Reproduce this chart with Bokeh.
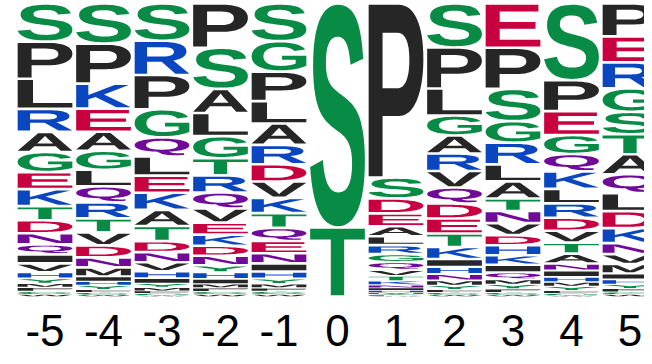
import os, glob, struct, subprocess
from bokeh.plotting import figure
from bokeh.models import ColumnDataSource, Range1d
from bokeh.core.properties import value
from bokeh.embed import file_html
from bokeh.resources import INLINE

# ---------------- data (sequence logo, relative frequencies) ----------------
positions = [-5, -4, -3, -2, -1, 0, 1, 2, 3, 4, 5]
tick_labels = ["-5", "-4", "-3", "-2", "-1", "0", "1", "2", "3", "4", "5"]

# letters listed from top of each stack to the bottom, with their weights
letters_m5 = list("SPLRAGEKTDNQIVHYMFCW")
weights_m5 = [38, 37, 30, 23, 20, 20, 17, 17, 14, 13, 11, 10, 9, 9, 6, 5, 4, 4, 3, 2]
letters_m4 = list("SPKEAGLQRTVDNMIHYFCW")
weights_m4 = [40, 40, 25, 23, 19, 19, 16.5, 16, 16, 14, 13, 12, 10, 9, 5, 4, 4, 3, 2.5, 1.5]
letters_m3 = list("SRPGQLEKATDNVHIYMFCW")
weights_m3 = [37, 34, 34, 28, 19, 19, 17, 17, 16, 15, 11, 10, 9, 7, 5, 4, 3.5, 2.5, 2, 1]
letters_m2 = list("PSALGTRQVEKDNYHIMFCW")
weights_m2 = [44, 41, 24, 23, 22, 17, 17, 16, 14, 12, 11, 10, 9.5, 7, 6.5, 5, 4, 3.5, 3, 2]
letters_m1 = list("SGPLARDVKTQENIHYMFCW")
weights_m1 = [37, 30, 29, 22, 21, 19, 17, 16, 15, 14.5, 13, 12, 10, 8, 7, 5, 4, 3.5, 3, 2]
letters_0 = list("ST")
weights_0 = [224, 69]
letters_p1 = list("PSDEALRGQVTKNIHMYFCW")
weights_p1 = [175, 21, 15, 13, 10, 9, 9, 8, 8, 6, 5, 4, 3, 2.5, 2, 1.5, 1, 0.8, 0.5, 0.3]
letters_p2 = list("SPLGARVQDETKIHNMYFCW")
weights_p2 = [44, 41, 27, 20, 18, 17.5, 16.5, 16, 15, 15, 13.5, 12, 8, 7, 6.5, 5, 4, 3, 2.5, 1.5]
letters_p3 = list("EPSGRLATNVDHKIQMYFCW")
weights_p3 = [44, 41, 32, 21.5, 21.5, 17, 17, 12.5, 12, 12, 10, 10, 9.5, 7.5, 7, 5, 4.5, 3.5, 2.5, 1.5]
letters_p4 = list("SPEGQKLRDVTANIHMYFCW")
weights_p4 = [77, 31, 24, 19, 17.5, 17.5, 14.5, 14.5, 13, 12, 11, 10, 7, 6.5, 5, 4.5, 4, 3, 2, 1]
letters_p5 = list("PERGSTAQLDKNVMIHYFCW")
weights_p5 = [33, 26, 26, 23.5, 22.5, 20, 20, 19, 18, 17, 15, 11, 10, 9.5, 6, 5, 4, 3.5, 2.5, 2]

stacks = [
    (letters_m5, weights_m5), (letters_m4, weights_m4), (letters_m3, weights_m3),
    (letters_m2, weights_m2), (letters_m1, weights_m1), (letters_0, weights_0),
    (letters_p1, weights_p1), (letters_p2, weights_p2), (letters_p3, weights_p3),
    (letters_p4, weights_p4), (letters_p5, weights_p5),
]

# chemistry colour scheme
GREEN, PURPLE, BLUE, RED, BLACK = "#078b45", "#6f0a99", "#0a46c0", "#c8003f", "#262626"
color_of = {}
for ch in "GSTYC":
    color_of[ch] = GREEN
for ch in "NQ":
    color_of[ch] = PURPLE
for ch in "KRH":
    color_of[ch] = BLUE
for ch in "DE":
    color_of[ch] = RED
for ch in "AVLIPWFM":
    color_of[ch] = BLACK


# ---------------- minimal TrueType outline reader ----------------
def find_font():
    names = ["LiberationSans-Bold.ttf", "Arimo-Bold.ttf", "DejaVuSans-Bold.ttf",
             "LiberationSans-Regular.ttf", "DejaVuSans.ttf"]
    roots = ["/usr/share/fonts", "/usr/local/share/fonts",
             os.path.expanduser("~/.fonts"), os.path.expanduser("~/.local/share/fonts")]
    for n in names:
        for r in roots:
            hits = glob.glob(os.path.join(r, "**", n), recursive=True)
            if hits:
                return hits[0]
    try:
        out = subprocess.run(["fc-match", "-f", "%{file}", "Liberation Sans:bold"],
                             capture_output=True, text=True).stdout.strip()
        if out and os.path.exists(out):
            return out
    except Exception:
        pass
    raise RuntimeError("no TrueType font found")


class TTF:
    def __init__(self, path):
        d = open(path, "rb").read()
        self.d = d
        base = struct.unpack(">I", d[12:16])[0] if d[:4] == b"ttcf" else 0
        n = struct.unpack(">H", d[base + 4:base + 6])[0]
        self.t = {}
        for i in range(n):
            rec = d[base + 12 + 16 * i: base + 28 + 16 * i]
            tag = rec[:4].decode("latin1")
            _, off, ln = struct.unpack(">III", rec[4:])
            self.t[tag] = off
        head = self.t["head"]
        locfmt = struct.unpack(">h", d[head + 50:head + 52])[0]
        maxp = self.t["maxp"]
        ng = struct.unpack(">H", d[maxp + 4:maxp + 6])[0]
        lo = self.t["loca"]
        if locfmt == 0:
            self.loca = [2 * v for v in struct.unpack(">%dH" % (ng + 1), d[lo:lo + 2 * (ng + 1)])]
        else:
            self.loca = list(struct.unpack(">%dI" % (ng + 1), d[lo:lo + 4 * (ng + 1)]))
        self.glyf = self.t["glyf"]
        self.cmap = self._cmap()

    def _cmap(self):
        d = self.d
        b = self.t["cmap"]
        n = struct.unpack(">H", d[b + 2:b + 4])[0]
        sub = None
        for i in range(n):
            pid, eid, off = struct.unpack(">HHI", d[b + 4 + 8 * i:b + 12 + 8 * i])
            fmt = struct.unpack(">H", d[b + off:b + off + 2])[0]
            if fmt == 4:
                sub = b + off
                if pid == 3:
                    break
        segx2 = struct.unpack(">H", d[sub + 6:sub + 8])[0]
        seg = segx2 // 2
        ends = struct.unpack(">%dH" % seg, d[sub + 14:sub + 14 + segx2])
        so = sub + 16 + segx2
        starts = struct.unpack(">%dH" % seg, d[so:so + segx2])
        deltas = struct.unpack(">%dh" % seg, d[so + segx2:so + 2 * segx2])
        ro = so + 2 * segx2
        ros = struct.unpack(">%dH" % seg, d[ro:ro + segx2])
        m = {}
        for i in range(seg):
            for c in range(starts[i], min(ends[i], 0x7F) + 1):
                if ros[i] == 0:
                    g = (c + deltas[i]) & 0xFFFF
                else:
                    a = ro + 2 * i + ros[i] + 2 * (c - starts[i])
                    g = struct.unpack(">H", d[a:a + 2])[0]
                    if g:
                        g = (g + deltas[i]) & 0xFFFF
                m[c] = g
        return m

    def contours(self, gid):
        d = self.d
        if self.loca[gid + 1] == self.loca[gid]:
            return []
        off = self.glyf + self.loca[gid]
        nc = struct.unpack(">h", d[off:off + 2])[0]
        p = off + 10
        if nc < 0:
            return self._composite(p)
        ends = struct.unpack(">%dH" % nc, d[p:p + 2 * nc])
        p += 2 * nc
        npts = ends[-1] + 1
        il = struct.unpack(">H", d[p:p + 2])[0]
        p += 2 + il
        flags = []
        while len(flags) < npts:
            f = d[p]
            p += 1
            flags.append(f)
            if f & 8:
                r = d[p]
                p += 1
                flags.extend([f] * r)
        xs, v = [], 0
        for f in flags:
            if f & 2:
                dx = d[p]
                p += 1
                v += dx if f & 16 else -dx
            elif not f & 16:
                v += struct.unpack(">h", d[p:p + 2])[0]
                p += 2
            xs.append(v)
        ys, v = [], 0
        for f in flags:
            if f & 4:
                dy = d[p]
                p += 1
                v += dy if f & 32 else -dy
            elif not f & 32:
                v += struct.unpack(">h", d[p:p + 2])[0]
                p += 2
            ys.append(v)
        res, s = [], 0
        for e in ends:
            pts = [(xs[i], ys[i], flags[i] & 1) for i in range(s, e + 1)]
            s = e + 1
            if len(pts) > 2:
                res.append(self._flatten(pts))
        return res

    def _composite(self, p):
        d = self.d
        res = []
        while True:
            flags, gi = struct.unpack(">HH", d[p:p + 4])
            p += 4
            if flags & 1:
                a1, a2 = struct.unpack(">hh", d[p:p + 4])
                p += 4
            else:
                a1, a2 = struct.unpack(">bb", d[p:p + 2])
                p += 2
            sx = sy = 1.0
            s01 = s10 = 0.0
            if flags & 8:
                sx = sy = struct.unpack(">h", d[p:p + 2])[0] / 16384.0
                p += 2
            elif flags & 0x40:
                sx, sy = [v / 16384.0 for v in struct.unpack(">hh", d[p:p + 4])]
                p += 4
            elif flags & 0x80:
                sx, s01, s10, sy = [v / 16384.0 for v in struct.unpack(">hhhh", d[p:p + 8])]
                p += 8
            dx, dy = (a1, a2) if flags & 2 else (0, 0)
            for c in self.contours(gi):
                res.append([(sx * x + s10 * y + dx, s01 * x + sy * y + dy) for x, y in c])
            if not flags & 0x20:
                break
        return res

    @staticmethod
    def _flatten(pts, steps=8):
        n = len(pts)
        exp = []
        for i in range(n):
            cur, nxt = pts[i], pts[(i + 1) % n]
            exp.append(cur)
            if not cur[2] and not nxt[2]:
                exp.append(((cur[0] + nxt[0]) / 2.0, (cur[1] + nxt[1]) / 2.0, 1))
        k = next(i for i, q in enumerate(exp) if q[2])
        exp = exp[k:] + exp[:k]
        m = len(exp)
        out = [(exp[0][0], exp[0][1])]
        i = 1
        while i <= m:
            q = exp[i % m]
            if q[2]:
                out.append((q[0], q[1]))
                i += 1
            else:
                p0 = out[-1]
                p2 = exp[(i + 1) % m]
                for s in range(1, steps + 1):
                    t = s / steps
                    out.append(((1 - t) ** 2 * p0[0] + 2 * (1 - t) * t * q[0] + t * t * p2[0],
                                (1 - t) ** 2 * p0[1] + 2 * (1 - t) * t * q[1] + t * t * p2[1]))
                i += 2
        return out


def signed_area(c):
    a = 0.0
    for i in range(len(c)):
        x1, y1 = c[i]
        x2, y2 = c[(i + 1) % len(c)]
        a += x1 * y2 - x2 * y1
    return a / 2.0


def inside(pt, c):
    x, y = pt
    res = False
    j = len(c) - 1
    for i in range(len(c)):
        xi, yi = c[i]
        xj, yj = c[j]
        if (yi > y) != (yj > y) and x < (xj - xi) * (y - yi) / (yj - yi) + xi:
            res = not res
        j = i
    return res


font = TTF(find_font())
_cache = {}


def unit_glyph(ch):
    if ch in _cache:
        return _cache[ch]
    conts = font.contours(font.cmap[ord(ch)])
    ax = [x for c in conts for x, _ in c]
    ay = [y for c in conts for _, y in c]
    x0, x1, y0, y1 = min(ax), max(ax), min(ay), max(ay)
    norm = [[((x - x0) / (x1 - x0), (y - y0) / (y1 - y0)) for x, y in c] for c in conts]
    areas = [signed_area(c) for c in norm]
    big = max(range(len(norm)), key=lambda i: abs(areas[i]))
    sgn = 1 if areas[big] > 0 else -1
    outers = [i for i in range(len(norm)) if areas[i] * sgn > 0]
    polys = {i: [norm[i]] for i in outers}
    for h in range(len(norm)):
        if h in polys:
            continue
        par = [i for i in outers if inside(norm[h][0], norm[i])]
        if par:
            polys[min(par, key=lambda i: abs(areas[i]))].append(norm[h])
    _cache[ch] = list(polys.values())
    return _cache[ch]


# ---------------- build letter shapes through data scales ----------------
LETTER_W = 0.935
PAD = 0.0045
xs_all, ys_all, cols = [], [], []
for pos, (letters, weights) in zip(positions, stacks):
    total = float(sum(weights))
    base = 0.0
    for ch, w in reversed(list(zip(letters, weights))):
        h = w / total
        pad = min(PAD, 0.15 * h)
        y0, y1 = base + pad, base + h - pad
        base += h
        polys = unit_glyph(ch)
        xs_all.append([[[pos + (u - 0.5) * LETTER_W for u, _ in ring] for ring in poly] for poly in polys])
        ys_all.append([[[y0 + v * (y1 - y0) for _, v in ring] for ring in poly] for poly in polys])
        cols.append(color_of[ch])

src = ColumnDataSource(dict(xs=xs_all, ys=ys_all, color=cols))

p = figure(width=644, height=356, x_range=Range1d(-5.761, 5.248), y_range=Range1d(-0.2048, 1.0102),
           output_backend="svg", toolbar_location=None, min_border=0,
           x_axis_location=None, y_axis_location=None)
p.grid.visible = False
p.outline_line_color = None
p.background_fill_color = "white"
p.border_fill_color = "white"

p.multi_polygons(xs="xs", ys="ys", source=src, fill_color="color", line_color=None)

label_y = -0.1177
p.text(x=positions, y=[label_y] * len(positions), text=tick_labels,
       text_align="center", text_baseline="middle",
       text_font=value("Liberation Sans"), text_font_size="44px", text_color="black")

open("out.html", "w").write(file_html(p, INLINE))
